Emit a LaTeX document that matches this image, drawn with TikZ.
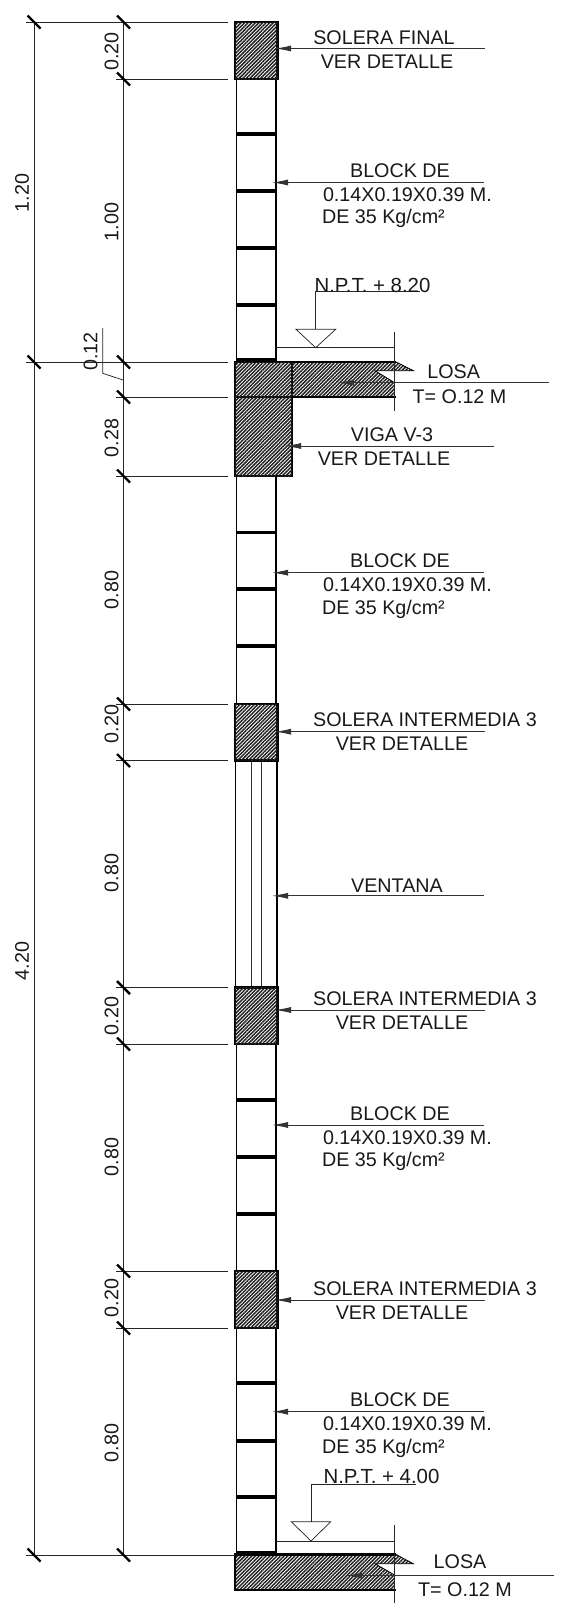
\documentclass[tikz,border=0pt]{standalone}
\usepackage{fontspec}
\setmainfont{Liberation Sans}
\usetikzlibrary{arrows.meta,patterns.meta}
\definecolor{hatchgray}{gray}{0.12}
\tikzset{
  x=0.75pt,y=-0.75pt,
  every node/.style={inner sep=0pt,outer sep=0pt,yshift=-0.6pt,font=\fontsize{14.8}{17}\selectfont,text=black!90},
  dimline/.style={line width=0.55pt,black!85},
  extline/.style={line width=0.65pt,black!85},
  ticked/.style={line width=1.8pt,black},
  leaderline/.style={line width=0.7pt,black!80,-{Latex[length=12pt,width=4.5pt]}},
  wall/.style={line width=1.1pt,black},
  joint/.style={line width=2.9pt,black},
  thin wall/.style={line width=0.7pt,black!80},
  hatched/.style={pattern={Lines[angle=45,distance=1.9pt,line width=1.1pt]},pattern color=hatchgray},
  concrete/.style={draw=black,line width=2pt,fill=white,postaction={hatched}},
  floorline/.style={line width=0.55pt,black!85},
  dimtext/.style={rotate=90,anchor=center,yshift=0.6pt},
  levelfont/.style={font=\fontsize{15.3}{17}\selectfont}
}
\newcommand{\tickmark}[2]{\draw[ticked] (#1-6.5,#2-6.5) -- (#1+6.5,#2+6.5);}
\begin{document}
\begin{tikzpicture}
\useasboundingbox (0,0) rectangle (573,1618);
% ---- walls of block
\foreach \a/\b in {79/362,476/704,1044/1271,1328/1555}{
  \draw[wall] (236.5,\a) -- (236.5,\b);
  \draw[wall] (276,\a) -- (276,\b);
}
\foreach \y in {134,190.7,248,305,532.5,589,646,1100,1157,1213.6,1383,1440.7,1497}{
  \draw[joint] (236.5,\y) -- (276,\y);
}
\draw[joint] (236.5,360) -- (276,360);
\draw[joint] (236.5,1553) -- (276,1553);
% ---- window
\draw[wall] (235.5,760) -- (235.5,988);
\draw[wall] (277,760) -- (277,988);
\draw[thin wall] (251,760) -- (251,988);
\draw[thin wall] (261,760) -- (261,988);
% ---- concrete elements
\foreach \a/\b in {22/79,704/760.5,987.6/1044,1271/1328}{
  \path[concrete] (235,\a) rectangle (277.5,\b);
}
\path[concrete] (235,397) rectangle (292,476);
\path[concrete] (235,362) rectangle (292,397);
\path[hatched] (292,362) -- (396.7,362) -- (413.3,370.7) -- (375,370.7) -- (394.5,382.7) -- (394.5,397) -- (292,397) -- cycle;
\draw[line width=2pt,black] (292,362) -- (396,362);
\draw[line width=2pt,black] (292,397) -- (396,397);
\draw[line width=0.6pt,black] (396,362) -- (413.3,370.7) -- (375,370.7) -- (394.5,382.7);
\path[hatched] (235,1554.5) -- (396.7,1554.5) -- (413.3,1563.7) -- (375,1563.7) -- (394.5,1575) -- (394.5,1590) -- (235,1590) -- cycle;
\draw[line width=2pt,black] (396,1554.5) -- (235,1554.5) -- (235,1590) -- (396,1590);
\draw[line width=0.6pt,black] (396,1554.5) -- (413.3,1563.7) -- (375,1563.7) -- (394.5,1575);
% ---- floor lines and levels
\draw[floorline] (394.3,331.7) -- (394.3,410.7);
\draw[floorline] (276,347.7) -- (394.3,347.7);
\draw[floorline] (296,329.3) -- (335.7,329.3) -- (315.7,347.7) -- cycle;
\draw[floorline] (315.7,329.3) -- (315.7,291.7) -- (420,291.7);
\draw[floorline] (394.3,1525) -- (394.3,1603);
\draw[floorline] (276,1541) -- (394.3,1541);
\draw[floorline] (291.3,1521.7) -- (330.7,1521.7) -- (311,1541) -- cycle;
\draw[floorline] (311,1521.7) -- (311,1484) -- (416,1484);
% ---- dimension lines
\draw[dimline] (34,22) -- (34,1555);
\draw[dimline] (123.5,22) -- (123.5,1555);
\draw[extline] (26,22) -- (228,22);
\draw[extline] (26,362) -- (228,362);
\draw[extline] (26,1555) -- (235,1555);
\foreach \y in {79,397,476,704,760.5,987.6,1044,1271,1328}{
  \draw[extline] (116,\y) -- (228,\y);
}
\foreach \y in {22,362,1555}{ \tickmark{34}{\y} }
\foreach \y in {22,79,362,397,476,704,760.5,987.6,1044,1271,1328,1555}{ \tickmark{123.5}{\y} }
\draw[line width=0.55pt,black!85] (102.7,328) -- (102.7,373.3) -- (123,380);
% ---- dimension texts
\node[dimtext] (d120) at (23,192) {1.20};
\node[dimtext] (d420) at (23,960) {4.20};
\node[dimtext] (d020a) at (112.5,50.5) {0.20};
\node[dimtext] (d100) at (112.5,221) {1.00};
\node[dimtext] (d012) at (91.5,350.5) {0.12};
\node[dimtext] (d028) at (112.5,437) {0.28};
\node[dimtext] (d080a) at (112.5,589) {0.80};
\node[dimtext] (d020b) at (112.5,723) {0.20};
\node[dimtext] (d080b) at (112.5,872) {0.80};
\node[dimtext] (d020c) at (112.5,1015) {0.20};
\node[dimtext] (d080c) at (112.5,1156) {0.80};
\node[dimtext] (d020d) at (112.5,1297) {0.20};
\node[dimtext] (d080d) at (112.5,1442) {0.80};
% ---- leaders
\draw[leaderline] (485,48.5) -- (275,48.5);
\foreach \y in {182.5,572.7,1125,1411.7}{
  \draw[leaderline] (484,\y) -- (272,\y);
  \node[anchor=center] at (400,\y-12.5) {BLOCK DE};
  \node[anchor=west] at (323,\y+11.5) {0.14X0.19X0.39 M.};
  \node[anchor=west] at (322,\y+35.5) {DE 35 Kg/cm²};
}
\draw[leaderline] (549,382.7) -- (338,382.7);
\draw[leaderline] (494,446) -- (285,446);
\foreach \y in {731.7,1010,1300}{
  \draw[leaderline] (485,\y) -- (275,\y);
  \node[anchor=center] at (425,\y-12.5) {SOLERA INTERMEDIA 3};
  \node[anchor=center] at (402,\y+11.5) {VER DETALLE};
}
\draw[leaderline] (484,895.8) -- (272,895.8);
\draw[leaderline] (554,1575.5) -- (346,1575.5);
% ---- labels
\node (t1) at (384,37) {SOLERA FINAL};
\node (t2) at (387,61) {VER DETALLE};
\node[levelfont] (t3) at (372.5,284.5) {N.P.T. + 8.20};
\node (t4) at (453.6,370.5) {LOSA};
\node (t5) at (459.5,396) {T= O.12 M};
\node (t6) at (392,434) {VIGA V-3};
\node (t7) at (384,458) {VER DETALLE};
\node (t8) at (397,884.5) {VENTANA};
\node[levelfont] (t9) at (381.5,1475.5) {N.P.T. + 4.00};
\node (t10) at (460,1561) {LOSA};
\node (t11) at (465,1589) {T= O.12 M};
\end{tikzpicture}
\end{document}
